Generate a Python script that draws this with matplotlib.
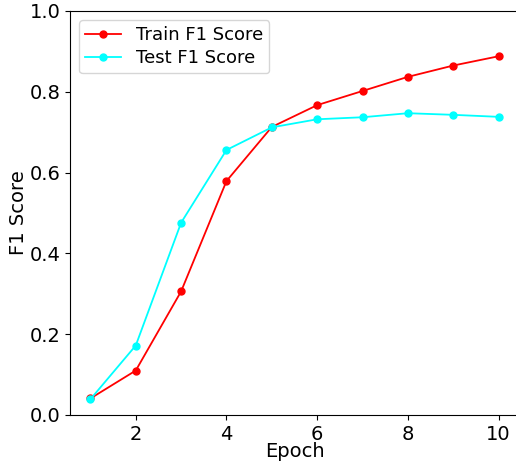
import matplotlib
matplotlib.use("Agg")
import matplotlib.pyplot as plt

epochs = [1, 2, 3, 4, 5, 6, 7, 8, 9, 10]
train_f1 = [0.041, 0.110, 0.306, 0.579, 0.713, 0.767, 0.802, 0.837, 0.865, 0.888]
test_f1 = [0.039, 0.172, 0.476, 0.656, 0.712, 0.732, 0.737, 0.747, 0.743, 0.738]

fig = plt.figure(figsize=(5.16, 4.62), dpi=100)
ax = fig.add_axes([70 / 516, 47 / 462, 449 / 516, 404 / 462])

ax.plot(epochs, train_f1, color="red", marker="o", markersize=5, linewidth=1.3, label="Train F1 Score")
ax.plot(epochs, test_f1, color="cyan", marker="o", markersize=5, linewidth=1.3, label="Test F1 Score")

ax.set_xlim(0.55, 10.45)
ax.set_ylim(0, 1.0)
ax.set_xticks([2, 4, 6, 8, 10])
ax.set_yticks([0.0, 0.2, 0.4, 0.6, 0.8, 1.0])
ax.tick_params(labelsize=14)
ax.spines["right"].set_visible(False)
ax.set_xlabel("Epoch", fontsize=14, labelpad=-1)
ax.set_ylabel("F1 Score", fontsize=14, labelpad=1)
ax.legend(loc="upper left", fontsize=13, labelspacing=0.25, borderpad=0.35)

fig.savefig("out.png", dpi=100)
